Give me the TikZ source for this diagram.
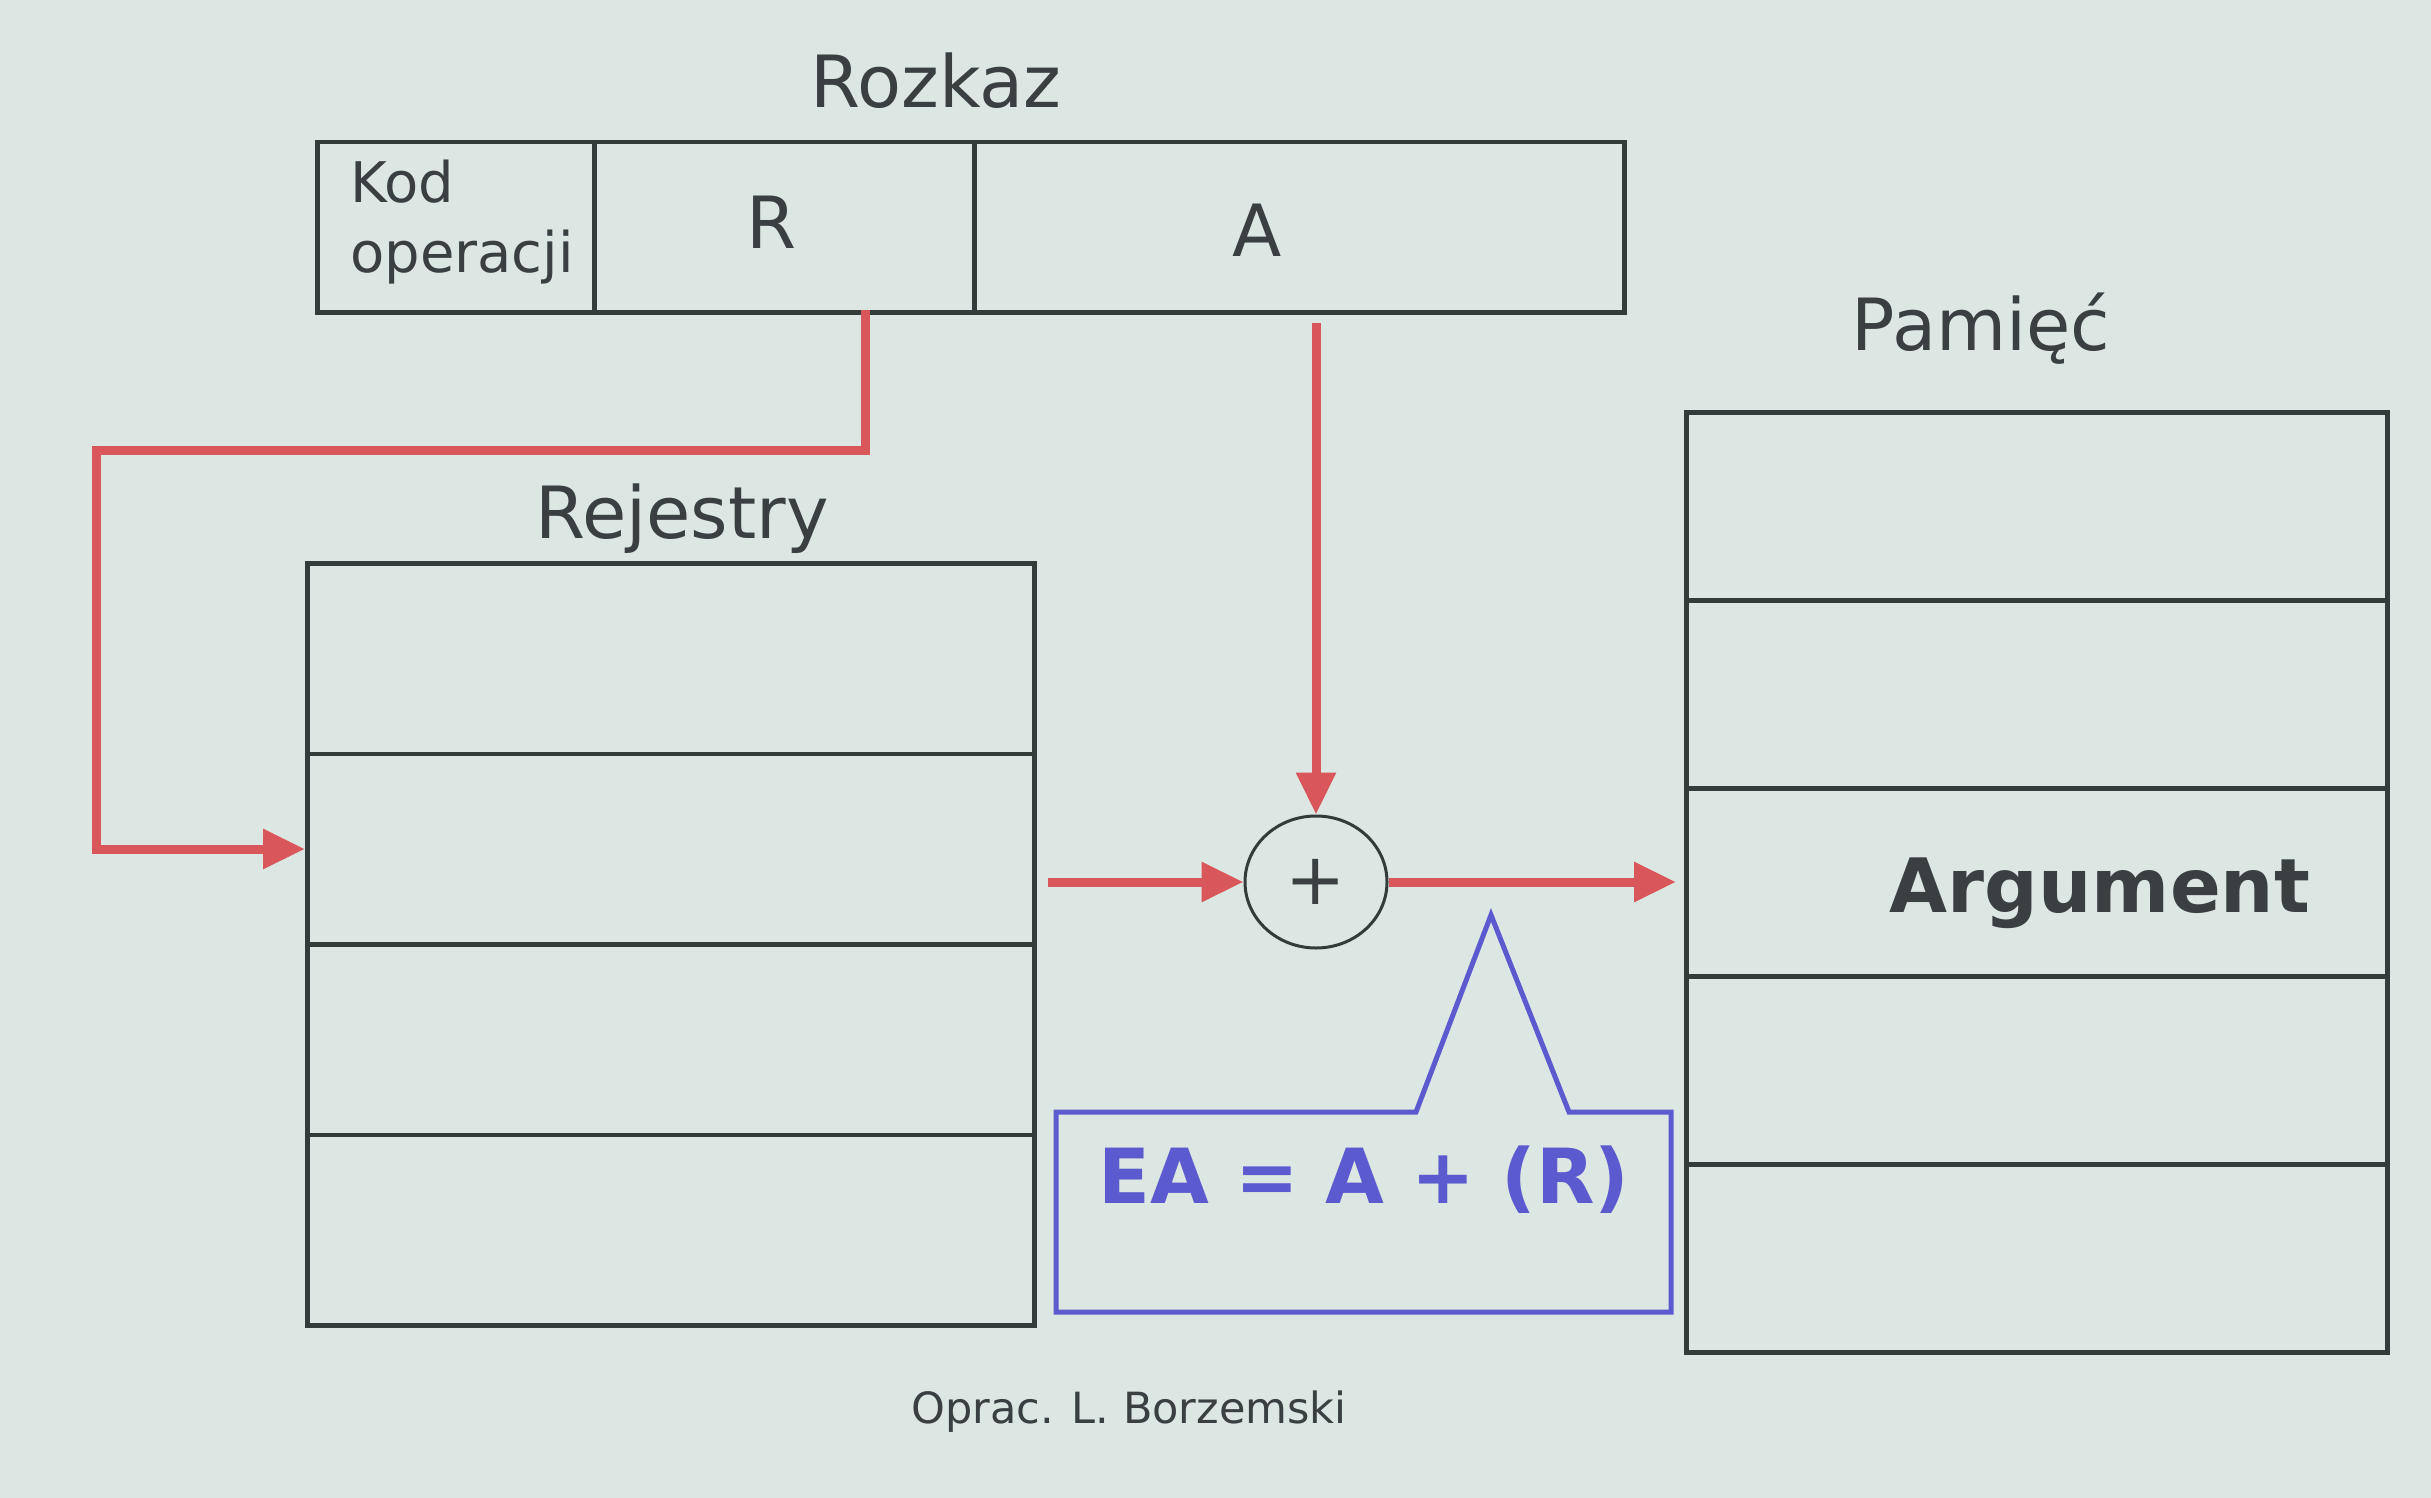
\documentclass[tikz,border=0pt]{standalone}
\usepackage{fontspec}
\setmainfont{DejaVu Sans}
\usetikzlibrary{arrows.meta,calc,shapes.geometric}
\definecolor{bgc}{HTML}{DCE6E2}
\definecolor{linec}{HTML}{343C3B}
\definecolor{redc}{HTML}{D9575B}
\definecolor{bluec}{HTML}{5B5BCF}
\definecolor{txtc}{HTML}{3A3F42}
\tikzset{
  cell/.style={draw=linec, line width=4.5pt, anchor=north west, inner sep=0pt},
  lbl/.style={text=txtc, inner sep=0pt, font=\fontsize{72}{86}\selectfont},
  redarrow/.style={draw=redc, line width=9pt, -{Triangle[length=42pt,width=38pt]}},
}
\begin{document}
\begin{tikzpicture}[x=1pt,y=-1pt]
\fill[bgc] (0,0) rectangle (2431,1498);
\useasboundingbox (0,0) rectangle (2431,1498);
% instruction
\node[lbl] (rozkaz) at (936,81) {Rozkaz};
\node[cell, minimum width=277pt, minimum height=170pt] (kod) at (315,140) {};
\node[cell, minimum width=380pt, minimum height=170pt] (rfield) at (592,140) {};
\node[cell, minimum width=650pt, minimum height=170pt] (afield) at (972,140) {};
\node[lbl, font=\fontsize{56}{70}\selectfont, align=left, anchor=west] (kodtxt) at (350,222) {Kod\\operacji};
\node[lbl] (rtxt) at (772,222) {R};
\node[lbl] (atxt) at (1257,230) {A};
% registers
\node[lbl] (rejtxt) at (682,519) {Rejestry};
\foreach \i in {1,...,4}{
  \node[cell, minimum width=727pt, minimum height=190.5pt] (reg\i) at (305,{561+190.5*(\i-1)}) {};
}
% memory
\node[lbl] (pamtxt) at (1981,329) {Pamięć};
\foreach \i in {1,...,5}{
  \node[cell, minimum width=701pt, minimum height=188pt] (mem\i) at (1684,{410+188*(\i-1)}) {};
}
\node[lbl, font=\bfseries\fontsize{75}{90}\selectfont] (argtxt) at (2100,893) {Argument};
% adder
\node[draw=linec, line width=3pt, ellipse, minimum width=142pt, minimum height=132pt, inner sep=0pt, font=\fontsize{72}{80}\selectfont, text=txtc] (adder) at (1316,882) {+};
% red connectors
\coordinate (rout) at (865,310);
\coordinate (regout) at (1048,882);
\draw[redarrow] (rout) -- (865,450) -- (96,450) |- (reg2.west);
\draw[redarrow] (adder.north |- afield.south) ++(0,8) -- (adder.north);
\draw[redarrow] (regout) -- (adder.west);
\draw[redarrow, shorten >=8pt] (adder.east) -- (adder.east -| mem3.west);
% EA callout
\draw[draw=bluec, line width=5pt, line join=miter]
  (1056,1112) -- (1416,1112) -- (1491,915) -- (1569,1112) -- (1671,1112)
  -- (1671,1312) -- (1056,1312) -- cycle;
\node[text=bluec, inner sep=0pt, font=\bfseries\fontsize{76}{90}\selectfont] (eatxt) at (1364,1180) {EA = A + (R)};
% footer
\node[lbl, font=\fontsize{43}{50}\selectfont] (footer) at (1129,1412) {Oprac. L. Borzemski};
\end{tikzpicture}
\end{document}
